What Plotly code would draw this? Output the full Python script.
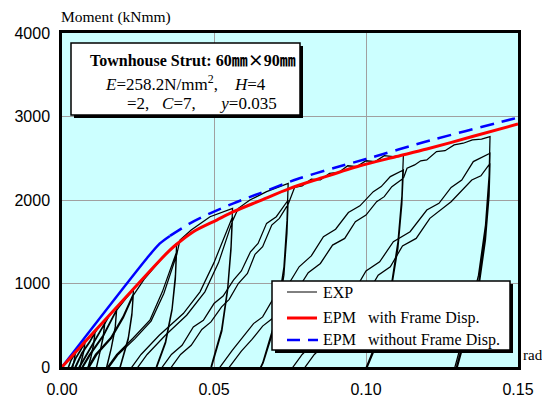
import plotly.graph_objects as go

# ---------------- data ----------------
# EPM envelopes (rad, kNmm)
epm_with_x = [0, 0.032, 0.0355, 0.0377, 0.0432, 0.0509, 0.0564, 0.065, 0.075, 0.085, 0.098, 0.11, 0.12, 0.135, 0.15]
epm_with_m = [0, 1270, 1400, 1470, 1620, 1760, 1860, 1990, 2140, 2260, 2410, 2520, 2610, 2760, 2910]

epm_without_x = [0, 0.028, 0.0322, 0.0355, 0.0421, 0.0487, 0.0564, 0.065, 0.0772, 0.09, 0.1, 0.1189, 0.1485, 0.15]
epm_without_m = [0, 1305, 1480, 1570, 1720, 1840, 1960, 2080, 2248, 2390, 2490, 2691, 2973, 2985]

# EXP hysteresis record, split by displacement amplitude group
g1_x = [0, 0.002, 0.0045, 0.004, 0.003, 0.001, 0.003, 0.0045, 0.004, 0.003, 0.0012, 0.003, 0.0045]
g1_m = [0, 85, 185, 80, -100, -100, 85, 175, 75, -100, -100, 80, 170]

g2_x = [0.0045, 0.006, 0.0076, 0.0072, 0.0065, 0.0052, 0.002, 0.0045, 0.006, 0.0076, 0.0072, 0.0065, 0.0053, 0.0022, 0.0046, 0.0061, 0.0076]
g2_m = [170, 250, 320, 200, 80, -100, -100, 110, 200, 300, 190, 75, -100, -100, 105, 195, 295]

g3_x = [0.0076, 0.009, 0.0109, 0.0104, 0.0095, 0.0078, 0.003, 0.0065, 0.009, 0.0109, 0.0104, 0.0095, 0.0079, 0.0033, 0.0067, 0.0091, 0.0109]
g3_m = [295, 370, 440, 280, 120, -100, -100, 170, 300, 420, 265, 110, -100, -100, 165, 295, 410]

g4_x = [0.0109, 0.0125, 0.0141, 0.0136, 0.0125, 0.0107, 0.004, 0.008, 0.011, 0.0141, 0.0136, 0.0125, 0.0108, 0.0043, 0.0082, 0.0112, 0.0141]
g4_m = [410, 500, 560, 380, 180, -100, -100, 150, 330, 530, 360, 170, -100, -100, 145, 325, 520]

g5_x = [0.0141, 0.016, 0.018, 0.0175, 0.0162, 0.014, 0.005, 0.009, 0.0135, 0.018, 0.0175, 0.0162, 0.0141, 0.0053, 0.0093, 0.0137, 0.018]
g5_m = [520, 640, 720, 480, 230, -100, -100, 150, 380, 690, 460, 220, -100, -100, 145, 375, 680]

g6_x = [0.018, 0.021, 0.0235, 0.023, 0.0218, 0.0197, 0.0183, 0.007, 0.011, 0.016, 0.02, 0.0235,
        0.023, 0.0218, 0.0198, 0.0184, 0.0074, 0.0114, 0.0163, 0.0202, 0.0235]
g6_m = [680, 820, 920, 650, 350, 80, -100, -100, 150, 350, 600, 880,
        620, 330, 75, -100, -100, 145, 345, 590, 860]

g7_x = [0.0235, 0.027, 0.031, 0.034, 0.0377, 0.0373, 0.0362, 0.034, 0.031, 0.0295,
        0.013, 0.018, 0.0235, 0.0289, 0.033, 0.0377, 0.0373, 0.0362, 0.0341, 0.0312, 0.0297,
        0.0135, 0.0185, 0.024, 0.0293, 0.0335, 0.0377]
g7_m = [860, 1050, 1220, 1350, 1480, 1100, 700, 300, 0, -100,
        -100, 150, 350, 560, 900, 1380, 1050, 680, 290, 0, -100,
        -100, 150, 340, 550, 880, 1340]

g8_x = [0.0377, 0.0388, 0.0425, 0.0487, 0.0561, 0.0556, 0.0545, 0.0525, 0.049, 0.047,
        0.021, 0.026, 0.032, 0.0399, 0.0454, 0.05, 0.0561, 0.0556, 0.0545, 0.0526, 0.0492, 0.0472,
        0.023, 0.028, 0.034, 0.041, 0.047, 0.0515, 0.0561]
g8_m = [1340, 1520, 1640, 1800, 1900, 1450, 950, 450, 0, -100,
        -100, 150, 380, 640, 900, 1250, 1800, 1400, 920, 430, 0, -100,
        -100, 150, 380, 620, 900, 1250, 1750]

g9_x = [0.0561, 0.058, 0.0618, 0.0673, 0.0744, 0.074, 0.073, 0.0705, 0.066, 0.064,
        0.031, 0.036, 0.0395, 0.0432, 0.0465, 0.05, 0.053, 0.0564, 0.059, 0.062, 0.0645, 0.0673, 0.0705, 0.0744,
        0.074, 0.073, 0.0706, 0.0662, 0.0642,
        0.034, 0.039, 0.0425, 0.046, 0.049, 0.0525, 0.055, 0.058, 0.061, 0.0635, 0.066, 0.069, 0.0715, 0.0744]
g9_m = [1750, 1900, 2000, 2100, 2200, 1750, 1200, 600, 50, -100,
        -100, 150, 260, 480, 560, 760, 850, 1040, 1150, 1380, 1480, 1720, 1800, 2000,
        1600, 1100, 560, 50, -100,
        -100, 150, 260, 450, 540, 720, 810, 1000, 1120, 1350, 1440, 1700, 1780, 1950]

g10_x = [0.0744, 0.0765, 0.079, 0.082, 0.085, 0.088, 0.091, 0.094, 0.097, 0.1, 0.103, 0.106, 0.109, 0.1123,
         0.1118, 0.1105, 0.108, 0.104, 0.099,
         0.05, 0.056, 0.06, 0.063, 0.066, 0.07, 0.074, 0.078, 0.082, 0.086, 0.09, 0.0942, 0.098, 0.1024,
         0.105, 0.108, 0.1123,
         0.1118, 0.1105, 0.108, 0.1042, 0.0993,
         0.053, 0.059, 0.0625, 0.066, 0.0695, 0.073, 0.077, 0.081, 0.085, 0.089, 0.093, 0.0965, 0.1, 0.1035,
         0.106, 0.1085, 0.1123]
g10_m = [1950, 2150, 2170, 2250, 2240, 2320, 2330, 2410, 2400, 2470, 2460, 2530, 2520, 2540,
         2050, 1500, 900, 350, -100,
         -100, 200, 380, 520, 600, 850, 960, 1200, 1330, 1560, 1650, 1850, 1930, 2100,
         2160, 2280, 2360,
         1950, 1420, 860, 330, -100,
         -100, 190, 330, 490, 590, 800, 900, 1130, 1240, 1460, 1540, 1740, 1820, 1980,
         2040, 2160, 2260]

g11_x = [0.1123, 0.1135, 0.116, 0.118, 0.12, 0.1232, 0.126, 0.129, 0.132, 0.135, 0.138, 0.1408,
         0.1405, 0.1393, 0.137, 0.133, 0.1285,
         0.074, 0.079, 0.082, 0.085, 0.0885, 0.092, 0.096, 0.1, 0.1045, 0.109, 0.1145, 0.12, 0.124, 0.128,
         0.1315, 0.1353, 0.1408,
         0.1405, 0.1393, 0.1372, 0.1333, 0.129,
         0.078, 0.083, 0.086, 0.089, 0.0925, 0.096, 0.1, 0.104, 0.108, 0.112, 0.1165, 0.121, 0.128, 0.1348,
         0.1378, 0.1408,
         0.1405, 0.1393, 0.1373, 0.1335, 0.1293]
g11_m = [2260, 2380, 2420, 2470, 2480, 2580, 2590, 2660, 2680, 2720, 2730, 2760,
         2300, 1700, 1100, 500, -100,
         -100, 150, 260, 450, 560, 800, 900, 1150, 1260, 1500, 1620, 1880, 1960, 2150,
         2240, 2460, 2560,
         2150, 1600, 1050, 480, -100,
         -100, 150, 250, 430, 530, 760, 850, 1100, 1200, 1450, 1540, 1780, 1980, 2240,
         2290, 2440,
         2050, 1520, 1000, 450, -100]

exp_groups = [(g1_x, g1_m), (g2_x, g2_m), (g3_x, g3_m), (g4_x, g4_m), (g5_x, g5_m), (g6_x, g6_m),
              (g7_x, g7_m), (g8_x, g8_m), (g9_x, g9_m), (g10_x, g10_m), (g11_x, g11_m)]

x_tick_vals = [0, 0.05, 0.10, 0.15]
x_tick_text = ["0.00", "0.05", "0.10", "0.15"]
y_tick_vals = [0, 1000, 2000, 3000, 4000]
y_tick_text = ["0", "1000", "2000", "3000", "4000"]

# ---------------- layout geometry ----------------
# the page body adds an 8 px offset, so the figure is 8 px smaller than the window
OFF = 8
SCR_W, SCR_H = 550, 398
PL, PT, PW, PH = 62, 33, 456, 334      # plot area in screen pixels
W, H = SCR_W - OFF, SCR_H - OFF
L, T = PL - OFF, PT - OFF
R, B = W - L - PW, H - T - PH


def px(x):
    return (x - PL) / PW


def py(y):
    return (PT + PH - y) / PH


SERIF = "Liberation Serif, Times New Roman, serif"
SANS = "Liberation Sans, Arial, sans-serif"
CJK = "Noto Sans CJK JP"

fig = go.Figure()

for gx, gm in exp_groups:
    fig.add_trace(go.Scatter(x=gx, y=gm, mode="lines", line=dict(color="black", width=1.25),
                             showlegend=False, hoverinfo="skip"))

# EPM without frame displacement (blue): solid over initial branch, dashed beyond
fig.add_trace(go.Scatter(x=epm_without_x[:4], y=epm_without_m[:4], mode="lines",
                         line=dict(color="#0000FF", width=2.5, shape="spline", smoothing=0.8),
                         showlegend=False, hoverinfo="skip"))
fig.add_trace(go.Scatter(x=epm_without_x[3:], y=epm_without_m[3:], mode="lines",
                         line=dict(color="#0000FF", width=2.5, dash="14px,8px", shape="spline", smoothing=0.8),
                         showlegend=False, hoverinfo="skip"))
# EPM with frame displacement (red)
fig.add_trace(go.Scatter(x=epm_with_x, y=epm_with_m, mode="lines",
                         line=dict(color="#FF0000", width=3, shape="spline", smoothing=0.8),
                         showlegend=False, hoverinfo="skip"))

axis_common = dict(showgrid=True, gridcolor="#A0A0A0", gridwidth=1, showline=True, linecolor="black",
                   linewidth=2.5, mirror=True, ticks="", zeroline=False, automargin=False,
                   tickfont=dict(family=SANS, size=16, color="black"))
fig.update_xaxes(range=[0, 0.15], tickvals=x_tick_vals, ticktext=x_tick_text, ticklabelstandoff=6,
                 **axis_common)
fig.update_yaxes(range=[0, 4000], tickvals=y_tick_vals, ticktext=y_tick_text, ticklabelstandoff=6,
                 **axis_common)

shapes = []
# info box with shadow
bx0, by0, bx1, by1 = 71, 43, 300, 115
shapes.append(dict(type="rect", xref="paper", yref="paper", x0=px(bx0 + 3), y0=py(by1 + 3),
                   x1=px(bx1 + 3), y1=py(by0 + 3), fillcolor="black", line=dict(width=0)))
shapes.append(dict(type="rect", xref="paper", yref="paper", x0=px(bx0), y0=py(by1), x1=px(bx1),
                   y1=py(by0), fillcolor="white", line=dict(color="black", width=1.5)))
# legend box with shadow
lx0, ly0, lx1, ly1 = 272, 281, 510, 350
shapes.append(dict(type="rect", xref="paper", yref="paper", x0=px(lx0 + 3), y0=py(ly1 + 3),
                   x1=px(lx1 + 3), y1=py(ly0 + 3), fillcolor="black", line=dict(width=0)))
shapes.append(dict(type="rect", xref="paper", yref="paper", x0=px(lx0), y0=py(ly1), x1=px(lx1),
                   y1=py(ly0), fillcolor="white", line=dict(color="black", width=1.5)))
# legend samples
shapes.append(dict(type="line", xref="paper", yref="paper", x0=px(287), x1=px(317), y0=py(292), y1=py(292),
                   line=dict(color="black", width=1)))
shapes.append(dict(type="line", xref="paper", yref="paper", x0=px(287), x1=px(317), y0=py(318), y1=py(318),
                   line=dict(color="#FF0000", width=3)))
shapes.append(dict(type="line", xref="paper", yref="paper", x0=px(287), x1=px(318), y0=py(340), y1=py(340),
                   line=dict(color="#0000FF", width=2.5, dash="13px,8px")))

ann = []


def text(x, y, s, size=16, anchor="left"):
    ann.append(dict(x=px(x), y=py(y), xref="paper", yref="paper", text=s, showarrow=False,
                    xanchor=anchor, yanchor="middle", font=dict(family=SERIF, size=size, color="black")))


mm = f"<span style='font-family:{CJK}'>㎜</span>"
times = f"<span style='font-family:{CJK}'>×</span>"
text(59, 17, "Moment (kNmm)", size=15.5)
text(521, 355, "rad", size=15)
text(192.5, 59, f"<b>Townhouse Strut: 60{mm}{times}90{mm}</b>", size=16, anchor="center")
text(103, 83, "<i>E</i>=258.2N/mm<sup>2</sup>,&nbsp;&nbsp;&nbsp;&nbsp;<i>H</i>=4", size=17)
text(125, 103, "=2,&nbsp;&nbsp;&nbsp;<i>C</i>=7,&nbsp;&nbsp;&nbsp;&nbsp;&nbsp;&nbsp;<i>y</i>=0.035", size=17)
text(321, 292, "EXP")
text(321, 318, "EPM&nbsp;&nbsp;&nbsp;with Frame Disp.")
text(321, 340, "EPM&nbsp;&nbsp;&nbsp;without Frame Disp.")

fig.update_layout(width=W, height=H, margin=dict(l=L, r=R, t=T, b=B, pad=0, autoexpand=False),
                  paper_bgcolor="white", plot_bgcolor="#CCFFFF",
                  shapes=shapes, annotations=ann, showlegend=False)

fig.write_html("out.html")
